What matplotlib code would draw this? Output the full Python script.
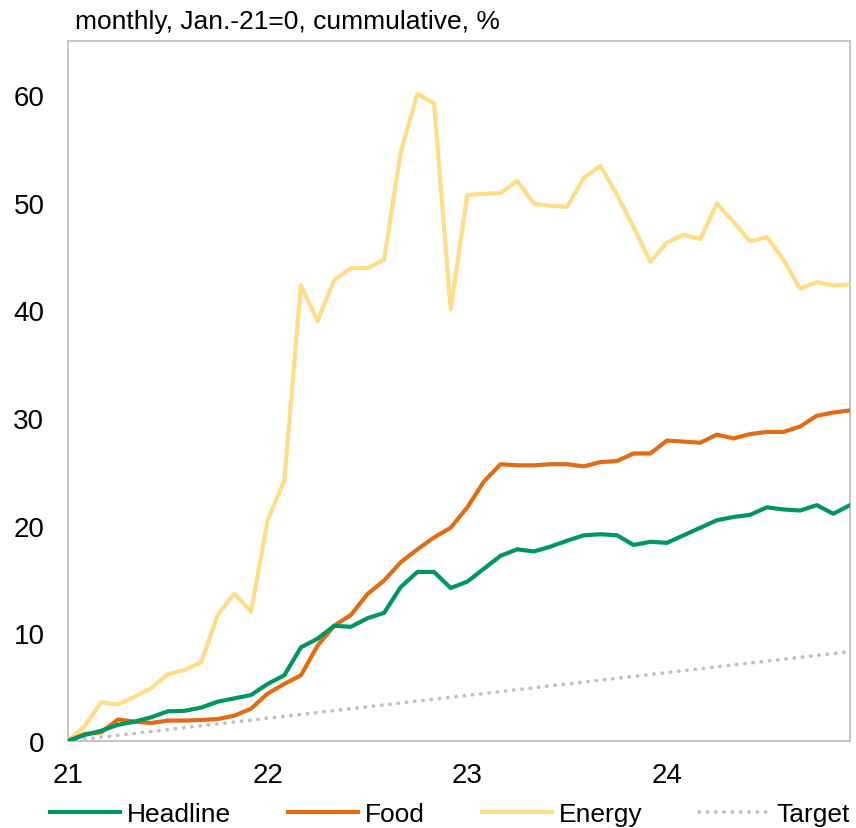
import matplotlib
matplotlib.use("Agg")
import matplotlib.pyplot as plt
import numpy as np

plt.rcParams['font.family'] = ['Liberation Sans', 'DejaVu Sans']

# Cumulative price change since Jan-21, monthly (Jan-21 .. Dec-24)
headline = [0.0, 0.56, 0.96, 1.5, 1.8, 2.2, 2.76, 2.8, 3.1, 3.65, 3.96, 4.27,
            5.3, 6.1, 8.7, 9.5, 10.7, 10.6, 11.4, 11.9, 14.3, 15.7, 15.7, 14.2,
            14.8, 16.0, 17.2, 17.8, 17.6, 18.05, 18.6, 19.1, 19.2, 19.1, 18.2, 18.5,
            18.4, 19.1, 19.8, 20.5, 20.8, 21.0, 21.7, 21.5, 21.4, 21.9, 21.1, 21.9]
food = [0.0, 0.65, 0.8, 2.0, 1.8, 1.67, 1.9, 1.9, 1.95, 2.04, 2.35, 3.0,
        4.4, 5.3, 6.1, 8.85, 10.7, 11.7, 13.65, 14.9, 16.6, 17.8, 18.9, 19.8,
        21.7, 24.1, 25.7, 25.6, 25.6, 25.7, 25.7, 25.5, 25.9, 26.0, 26.7, 26.7,
        27.9, 27.8, 27.7, 28.45, 28.1, 28.5, 28.7, 28.7, 29.2, 30.2, 30.5, 30.7]
energy = [0.0, 1.4, 3.6, 3.4, 4.1, 4.9, 6.2, 6.6, 7.3, 11.7, 13.7, 12.0,
          20.5, 24.2, 42.3, 39.0, 42.8, 43.9, 43.9, 44.7, 54.7, 60.1, 59.2, 40.1,
          50.7, 50.8, 50.9, 52.0, 49.9, 49.7, 49.6, 52.3, 53.4, 50.7, 47.7, 44.5,
          46.3, 47.0, 46.6, 49.9, 48.2, 46.4, 46.8, 44.7, 42.0, 42.6, 42.3, 42.4]
# Inflation target path: start and end of the period
target_months = [0, 47]
target = [0.0, 8.3]

year_labels = ["21", "22", "23", "24"]
y_ticks = [0, 10, 20, 30, 40, 50, 60]

months = np.arange(len(headline))

fig = plt.figure(figsize=(8.56, 8.29), dpi=100)
ax = fig.add_axes([68 / 856, 1 - 742 / 829, (850 - 68) / 856, (742 - 42) / 829])

c_head = "#00965E"
c_food = "#E06C14"
c_energy = "#FFDD86"
c_target = "#BFBFBF"

ax.plot(months, energy, color=c_energy, lw=3.0, label="Energy", zorder=3)
ax.plot(months, food, color=c_food, lw=3.0, label="Food", zorder=4)
ax.plot(months, headline, color=c_head, lw=3.0, label="Headline", zorder=5)
ax.plot(target_months, target, color=c_target, lw=2.6, ls=(0, (0.1, 2.2)),
        dash_capstyle="round", solid_capstyle="round", label="Target", zorder=2)

ax.set_xlim(0, 47)
ax.set_ylim(0, 65)
ax.set_yticks(y_ticks)
ax.set_xticks(np.arange(len(year_labels)) * 12)
ax.set_xticklabels(year_labels)
ax.tick_params(axis='both', length=0, labelsize=20, colors="black")
ax.tick_params(axis='y', pad=17)
ax.tick_params(axis='x', pad=15)

for s in ax.spines.values():
    s.set_color(c_target)
    s.set_linewidth(1.3)

fig.text(75 / 856, 1 - 22 / 829, "monthly, Jan.-21=0, cummulative, %",
         fontsize=19, va="center", ha="left")

handles, labels = ax.get_legend_handles_labels()
order = [labels.index(n) for n in ["Headline", "Food", "Energy", "Target"]]
leg = fig.legend([handles[i] for i in order], [labels[i] for i in order],
                 loc="center", bbox_to_anchor=(450 / 856, 1 - 815 / 829), ncol=4,
                 frameon=False, fontsize=19, handlelength=2.65, handletextpad=0.27,
                 columnspacing=2.15, borderaxespad=0, borderpad=0)

fig.savefig("out.png", dpi=100)
